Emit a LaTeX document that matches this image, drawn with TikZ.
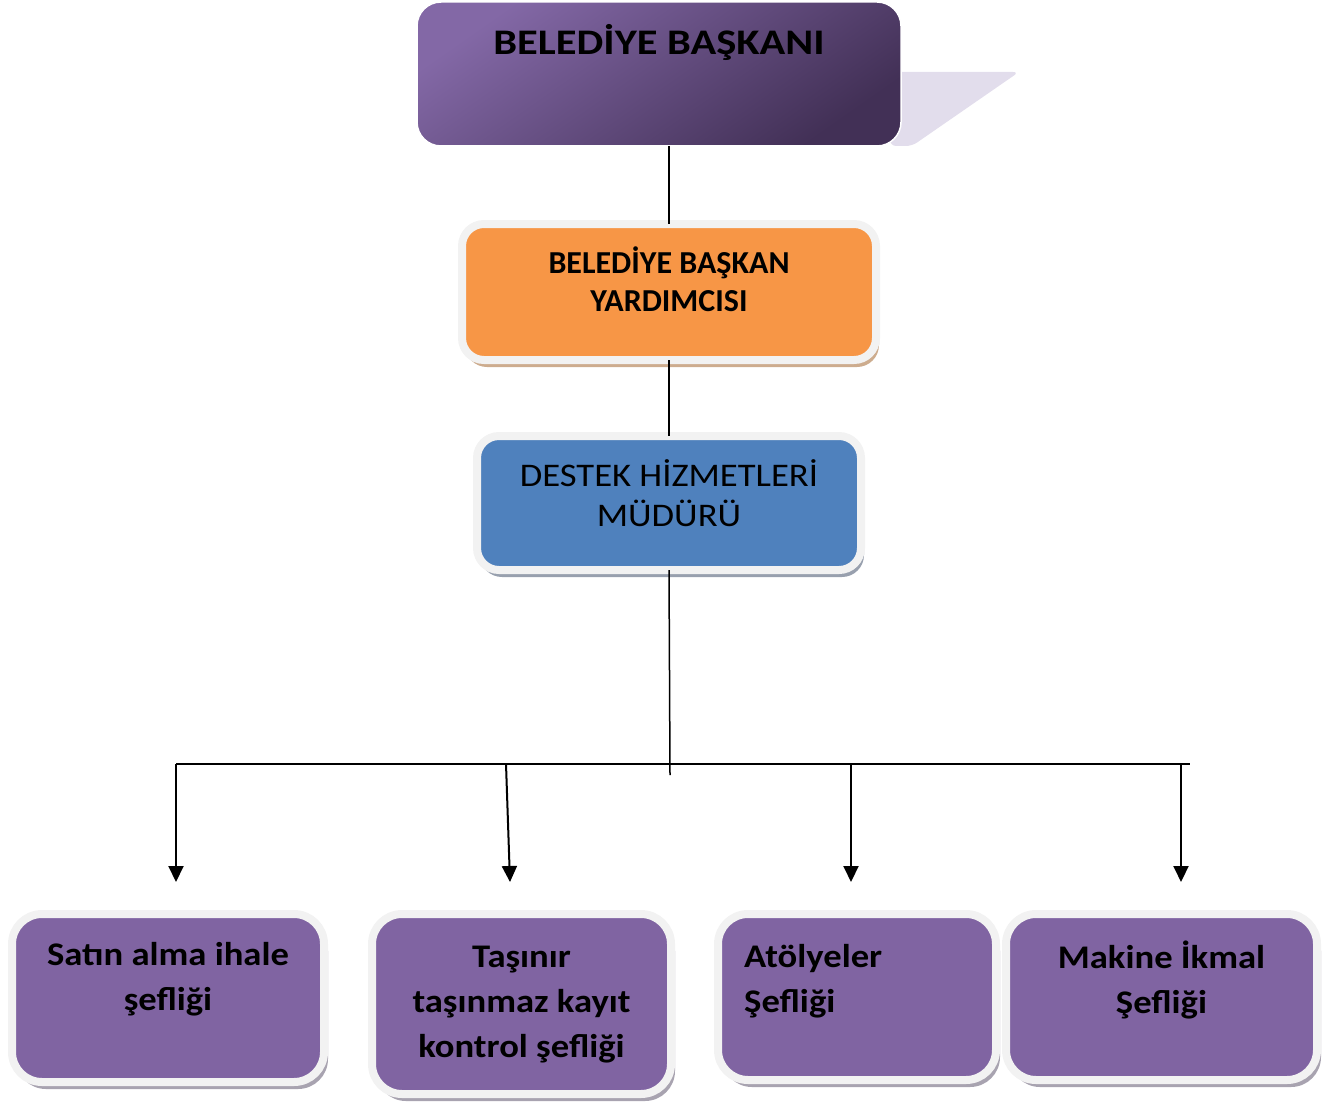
\documentclass[tikz,border=0pt]{standalone}
\usepackage{fontspec}
\setmainfont{Carlito}
\newfontfamily\headfont[FakeStretch=1.18]{Carlito}
\newfontfamily\boxfont[FakeStretch=1.11]{Carlito}
\usepackage{tikz}
\usetikzlibrary{arrows.meta, positioning, calc, shadows}
\definecolor{cPurple}{RGB}{128,100,162}
\definecolor{cPurpleTop}{RGB}{131,104,166}
\definecolor{cPurpleBot}{RGB}{66,48,86}
\definecolor{cLavender}{RGB}{226,221,236}
\definecolor{cOrange}{RGB}{247,150,70}
\definecolor{cBlue}{RGB}{79,129,189}
\definecolor{cFrame}{RGB}{242,242,242}
\definecolor{cShadeOr}{RGB}{205,172,142}
\definecolor{cShadeBl}{RGB}{152,160,174}
\definecolor{cShadePu}{RGB}{168,163,176}
\tikzset{
	headbox/.style ={rectangle, rounded corners=24pt, draw=white, line width=1.5pt, top color=cPurpleTop, bottom color=cPurpleBot, shading angle=35, minimum width=484pt, minimum height=144pt, outer sep=0pt},
	framebox/.style={rectangle, draw=cFrame, line width=8pt, outer sep=0pt, inner sep=0pt},
	orbox/.style   ={framebox, rounded corners=22pt, fill=cOrange, drop shadow={shadow xshift=3pt, shadow yshift=-7pt, fill=cShadeOr, opacity=1}, minimum width=414pt, minimum height=136pt},
	blbox/.style   ={framebox, rounded corners=22pt, fill=cBlue, drop shadow={shadow xshift=3pt, shadow yshift=-7pt, fill=cShadeBl, opacity=1}, minimum width=384pt, minimum height=134pt},
	pubox/.style   ={framebox, rounded corners=30pt, fill=cPurple, drop shadow={shadow xshift=4pt, shadow yshift=-7pt, fill=cShadePu, opacity=1}},
	% texts
	toptxt/.style  ={inner sep=0pt, align=center, font=\headfont\fontsize{36}{44}\selectfont\bfseries},
	ortxt/.style   ={inner sep=0pt, align=center, font=\fontsize{32}{38}\selectfont\bfseries},
	bltxt/.style   ={inner sep=0pt, align=center, font=\boxfont\fontsize{33}{40}\selectfont},
	putxt/.style   ={inner sep=0pt, align=center, font=\boxfont\fontsize{33}{45}\selectfont\bfseries},
	link/.style    ={line width=1.5pt},
	branch/.style  ={-{Triangle[length=16pt, width=15pt]}, line width=2pt},
}
\begin{document}
\begin{tikzpicture}[x=1pt, y=-1pt]
	\useasboundingbox (0,0) rectangle (1337,1102);
	% slanted shadow behind the top box
	\fill[cLavender, rounded corners=6pt] (890,72) -- (1019,72) -- (912,146) -- (890,146) -- cycle;
	\node[headbox] (baskan) at (659,74) {};
	\node[toptxt, below=22pt of baskan.north] (baskanlbl) {BELEDİYE BAŞKANI};

	\node[orbox] (vekil) at (669,292) {};
	\node[ortxt, below=23pt of vekil.north] (vekillbl) {BELEDİYE BAŞKAN\\YARDIMCISI};

	\node[blbox] (mudur) at (669,503) {};
	\node[bltxt, below=23pt of mudur.north] (mudurlbl) {DESTEK HİZMETLERİ\\MÜDÜRÜ};

	% bottom row
	\node[pubox, minimum width=312pt, minimum height=168pt] (satin) at (168,998) {};
	\node[pubox, minimum width=299pt, minimum height=180pt] (tasinir) at (521.5,1004) {};
	\node[pubox, minimum width=278pt, minimum height=166pt] (atolye) at (857,997) {};
	\node[pubox, minimum width=311pt, minimum height=166pt] (makine) at (1161.5,997) {};
	\node[putxt, below=28pt of satin.north] (satinlbl) {Satın alma ihale\\şefliği};
	\node[putxt, below=32pt of tasinir.north] (tasinirlbl) {Taşınır\\taşınmaz kayıt\\kontrol şefliği};
	\node[putxt, align=left, below right=30pt and 26pt of atolye.north west] (atolyelbl) {Atölyeler\\Şefliği};
	\node[putxt, below=27pt of makine.north] (makinelbl) {Makine İkmal\\Şefliği};

	% connectors
	\draw[link] (vekil.north |- baskan.south) -- (vekil.north);
	\draw[link] (vekil.south) -- (mudur.north);
	\coordinate (hub) at (670,775);
	\draw[link] (mudur.south) -- (hub);
	\coordinate (busL) at (176,764);
	\coordinate (busR) at (1190,764);
	\draw[branch, -] (busL) -- (busR);
	\foreach \i/\xa/\xb in {1/176/176, 2/506/510, 3/851/851, 4/1181/1181}{
		\coordinate (t\i) at (\xa,764);
		\coordinate (h\i) at (\xb,882);
		\draw[branch] (t\i) -- (h\i);
	}
\end{tikzpicture}
\end{document}
